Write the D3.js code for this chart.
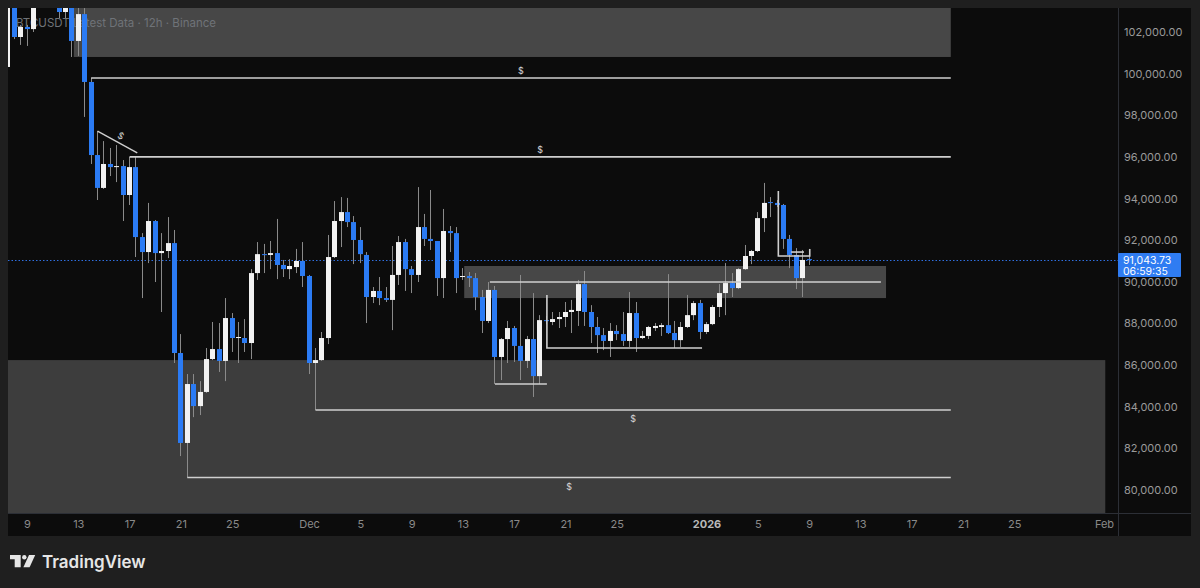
<!DOCTYPE html>
<html>
<head>
<meta charset="utf-8">
<script src="https://cdn.jsdelivr.net/npm/d3@7"></script>
<style>
  html, body { margin: 0; padding: 0; background: #1f1f1f; }
  svg { display: block; font-family: Inter, Roboto, "Noto Sans", sans-serif; }
</style>
</head>
<body>
<div id="chart"></div>
<script>
// BTCUSDT 12h candles, Binance — dark TradingView style snapshot
const width = 1200, height = 588;
const pane = {left: 8, top: 8, right: 1118, bottom: 513};
const axisEnd = 1191, timeAxisBottom = 536;

// first candle opens 2025-11-07 12:00 UTC, one candle every 12h
const firstCandle = Date.UTC(2025, 10, 7, 12);
const open = [100320,103540,101760,102240,102140,103540,105000,104500,103300,102960,103300,101570,102860,99600,96090,94510,95660,95510,95560,94170,95510,92150,91430,92920,91380,91480,91860,86580,82260,85090,84030,84710,86290,86770,86200,88260,87300,87300,87060,90420,91330,91290,91380,90810,90610,90710,91000,90280,86100,86240,87300,91190,92920,93350,92870,92010,91290,89270,89560,89220,89130,90330,91910,90610,90330,92630,92060,91960,90180,92440,92340,90230,90280,90180,89270,88120,89610,86390,87250,87780,86920,86200,87250,85470,88160,88070,88210,88310,88550,88600,89890,88550,87830,87440,87160,87640,87490,87160,88500,87300,87400,87780,87830,87920,87540,87200,87830,88400,88980,87590,87970,88790,89460,89940,89700,90610,91240,91480,93060,93830,93790,93690,92060,91290,90180,91090];
const high = [104500,103780,102340,102340,103920,105500,106000,105000,103540,103680,103540,103200,103150,99790,97240,96760,96430,96570,95850,96000,96000,92340,93790,92970,92340,93110,92490,87490,85570,85570,85230,86820,88070,88020,89220,88500,88070,88210,90610,91910,91820,91960,93020,91050,91090,91580,91910,90330,86820,87590,92250,93880,94070,94030,93160,92630,91430,89750,90230,89750,91720,92200,92060,90760,94550,93260,94410,91960,93500,92680,92630,90660,90470,90420,89610,89990,89800,87300,88120,87880,90330,87400,89460,88400,88360,88550,88550,89030,89130,90090,90520,88880,88310,87780,88020,87920,88550,89510,89030,87640,87880,88020,88020,90370,88120,88070,89370,89080,89130,88070,88880,89890,90900,90420,90660,91770,91530,93350,94750,94070,93930,93740,92250,91620,91530,91580];
const low = [99210,101660,101380,101330,102000,103400,104000,103280,102670,102670,100800,100850,97920,95660,93930,94460,95080,94790,92920,93690,91190,89220,90900,89990,88550,91140,86100,81630,80600,83500,83600,84660,86240,85670,85230,86630,86100,86630,86290,90090,90420,90610,90130,90230,90130,90420,89750,85570,83840,86200,87010,91140,91670,92630,90850,90900,88020,88980,88880,89030,87680,89850,89560,89460,89990,91720,91530,89320,89220,91430,89460,90090,89750,88640,87540,88020,85090,85280,86100,86150,85280,85860,84470,85090,87970,87920,87780,87830,87540,87880,87880,87060,86580,86720,86390,87200,86920,86870,86630,87250,87250,87640,87400,87490,86820,86870,87780,88160,87250,87490,87920,88310,88400,89270,89650,90570,90850,91430,92390,93110,93590,91580,90660,89650,89270,90810];
const close = [103540,101760,102240,102140,103540,105000,104500,103300,102960,103300,101570,102860,99600,96090,94510,95660,95510,95560,94170,95510,92150,91430,92920,91380,91480,91860,86580,82260,85090,84030,84710,86290,86770,86200,88260,87300,87350,87060,90420,91330,91290,91380,90810,90610,90760,91000,90280,86100,86240,87300,91190,92920,93350,92870,92010,91330,89270,89560,89220,89130,90330,91910,90610,90330,92630,92060,91960,90180,92440,92340,90180,90280,90180,89270,88120,89610,86390,87250,87780,86920,86200,87250,85470,88160,88120,88210,88310,88550,88650,89890,88550,87830,87440,87160,87640,87490,87160,88500,87300,87400,87830,87880,87920,87540,87200,87830,88400,88980,87590,87970,88790,89460,89940,89700,90610,91240,91480,93060,93790,93790,93690,92060,91290,90180,91050,91043.73];
const lastPrice = 91043.73;
const countdown = "06:59:35";

// price axis ticks
const priceTicks = [80000, 82000, 84000, 86000, 88000, 90000, 92000, 94000, 96000, 98000, 100000, 102000];
// time axis ticks and labels
const timeTicks = [
  [2025, 10, 9], [2025, 10, 13], [2025, 10, 17], [2025, 10, 21], [2025, 10, 25],
  [2025, 11, 1], [2025, 11, 5], [2025, 11, 9], [2025, 11, 13], [2025, 11, 17], [2025, 11, 21], [2025, 11, 25],
  [2026, 0, 1], [2026, 0, 5], [2026, 0, 9], [2026, 0, 13], [2026, 0, 17], [2026, 0, 21], [2026, 0, 25],
  [2026, 1, 1]
];
const timeLabels = ["9","13","17","21","25","Dec","5","9","13","17","21","25","2026","5","9","13","17","21","25","Feb"];

// drawings, in candle index (k) and price
const zones = [
  {k0: 10.3, k1: 147.1, p0: 100800, p1: 105000, fill: "#474747"},
  {k0: 71.2, k1: 137.0, p0: 89220, p1: 90760, fill: "#474747"},
  {k0: -5, k1: 171.2, p0: 70000, p1: 86240, fill: "#3d3d3d"}
];
const levels = [
  {k0: 13, k1: 147.1, price: 99790, label: "above"},
  {k0: 19, k1: 147.1, price: 96000, label: "above"},
  {k0: 48, k1: 147.1, price: 83840, label: "below"},
  {k0: 28, k1: 147.1, price: 80600, label: "below"},
  {k0: 75.2, k1: 136.2, price: 89990, label: null}
];
const trendLine = [[14, 97240], [20.2, 96190]];
const brackets = [
  [[76, 85090], [84.1, 85090]],
  [[84.1, 89370], [84.1, 86820], [108.3, 86820]],
  [[120.2, 94360], [120.2, 91240], [125.1, 91240], [125.1, 91580]],
  [[122.2, 91430], [124.2, 91430]]
];

const candles = open.map((o, k) => ({
  t: new Date(firstCandle + k * 12 * 3600e3),
  o, h: high[k], l: low[k], c: close[k]
}));
const barTime = k => new Date(firstCandle + k * 12 * 3600e3);

const x = d3.scaleUtc()
  .domain([new Date(Date.UTC(2025, 10, 9)), new Date(Date.UTC(2026, 1, 1))])
  .range([27, 1104]);
const y = d3.scaleLinear().domain([80000, 102000]).range([490, 32]);

const svg = d3.select("#chart").append("svg")
  .attr("width", width).attr("height", height)
  .attr("viewBox", `0 0 ${width} ${height}`);

svg.append("rect").attr("width", width).attr("height", height).attr("fill", "#1f1f1f");

// panel backgrounds
svg.append("rect")
  .attr("x", pane.left).attr("y", pane.top)
  .attr("width", axisEnd - pane.left).attr("height", timeAxisBottom - pane.top)
  .attr("fill", "#0c0c0c");

svg.append("defs").append("clipPath").attr("id", "pane-clip")
  .append("rect")
  .attr("x", pane.left).attr("y", pane.top)
  .attr("width", pane.right - pane.left).attr("height", pane.bottom - pane.top);

const g = svg.append("g").attr("clip-path", "url(#pane-clip)");

// zones
g.selectAll("rect.zone")
  .data(zones)
  .join("rect")
    .attr("class", "zone")
    .attr("x", d => x(barTime(d.k0)))
    .attr("width", d => x(barTime(d.k1)) - x(barTime(d.k0)))
    .attr("y", d => y(d.p1))
    .attr("height", d => y(d.p0) - y(d.p1))
    .attr("fill", d => d.fill);

// legend (sits behind the candles)
g.append("text")
  .attr("x", 16).attr("y", 27)
  .attr("fill", "#6f7378")
  .style("font-size", "11.5px")
  .text("BTCUSDT Latest Data · 12h · Binance");

// last price dotted line
g.append("line")
  .attr("x1", pane.left).attr("x2", pane.right)
  .attr("y1", Math.round(y(lastPrice)) + 0.5).attr("y2", Math.round(y(lastPrice)) + 0.5)
  .attr("stroke", "#2f6fe0").attr("stroke-width", 1)
  .attr("stroke-dasharray", "1.5,2");

// candles
const cx = d => Math.floor(x(d.t));
const cg = g.append("g");
cg.selectAll("line.wick")
  .data(candles)
  .join("line")
    .attr("class", "wick")
    .attr("x1", d => cx(d) + 0.5).attr("x2", d => cx(d) + 0.5)
    .attr("y1", d => y(d.h)).attr("y2", d => y(d.l))
    .attr("stroke", "#8a8a8a").attr("stroke-width", 1);

cg.selectAll("rect.body")
  .data(candles)
  .join("rect")
    .attr("class", "body")
    .attr("x", d => cx(d) - 2)
    .attr("width", 5)
    .attr("y", d => y(Math.max(d.o, d.c)))
    .attr("height", d => Math.max(1, Math.abs(y(d.o) - y(d.c))))
    .attr("fill", d => d.c >= d.o ? "#f2f2f2" : "#2b7bf4");

// liquidity lines
const lineColor = "#cfcfcf";
g.selectAll("line.level")
  .data(levels)
  .join("line")
    .attr("class", "level")
    .attr("x1", d => x(barTime(d.k0))).attr("x2", d => x(barTime(d.k1)))
    .attr("y1", d => y(d.price)).attr("y2", d => y(d.price))
    .attr("stroke", lineColor).attr("stroke-width", 1.6);

g.selectAll("text.level-label")
  .data(levels.filter(d => d.label))
  .join("text")
    .attr("class", "level-label")
    .attr("x", d => (x(barTime(d.k0)) + x(barTime(d.k1))) / 2)
    .attr("y", d => y(d.price) + (d.label === "above" ? -4 : 12))
    .attr("text-anchor", "middle")
    .attr("fill", "#d8d8d8")
    .style("font-size", "9px")
    .text("$");

const line = d3.line().x(d => x(barTime(d[0]))).y(d => y(d[1]));
g.selectAll("path.bracket")
  .data(brackets)
  .join("path")
    .attr("class", "bracket")
    .attr("d", line)
    .attr("fill", "none")
    .attr("stroke", lineColor).attr("stroke-width", 1.6);

g.append("path")
  .attr("d", line(trendLine))
  .attr("fill", "none")
  .attr("stroke", lineColor).attr("stroke-width", 1.4);

const tA = trendLine[0], tB = trendLine[1];
const ang = Math.atan2(y(tB[1]) - y(tA[1]), x(barTime(tB[0])) - x(barTime(tA[0]))) * 180 / Math.PI;
const midX = (x(barTime(tA[0])) + x(barTime(tB[0]))) / 2;
const midY = (y(tA[1]) + y(tB[1])) / 2;
g.append("text")
  .attr("transform", `translate(${midX},${midY}) rotate(${ang}) translate(0,-4)`)
  .attr("text-anchor", "middle")
  .attr("fill", "#d8d8d8")
  .style("font-size", "9px")
  .text("$");

// separators
svg.append("line")
  .attr("x1", pane.right + 0.5).attr("x2", pane.right + 0.5)
  .attr("y1", pane.top).attr("y2", timeAxisBottom)
  .attr("stroke", "#2c2f36");
svg.append("line")
  .attr("x1", pane.left).attr("x2", axisEnd)
  .attr("y1", pane.bottom + 0.5).attr("y2", pane.bottom + 0.5)
  .attr("stroke", "#2c2f36");

// price axis
const yAxis = svg.append("g")
  .attr("transform", `translate(${pane.right},0)`)
  .call(d3.axisRight(y).tickValues(priceTicks).tickSize(0).tickPadding(6)
    .tickFormat(d3.format(",.2f")));
yAxis.select(".domain").remove();
yAxis.selectAll("text")
  .attr("fill", "#9a9a9a")
  .style("font-size", "11px")
  .style("font-family", "Inter, Roboto, sans-serif");

// time axis
const tickDates = timeTicks.map(d => new Date(Date.UTC(d[0], d[1], d[2])));
const xAxis = svg.append("g")
  .attr("transform", `translate(0,${pane.bottom})`)
  .call(d3.axisBottom(x).tickValues(tickDates).tickSize(0).tickPadding(7)
    .tickFormat((d, i) => timeLabels[i]));
xAxis.select(".domain").remove();
xAxis.selectAll("text")
  .attr("fill", (d, i) => timeLabels[i] === "2026" ? "#b8b8b8" : "#8a8a8a")
  .style("font-weight", (d, i) => timeLabels[i] === "2026" ? "700" : "400")
  .style("font-size", "11px")
  .style("font-family", "Inter, Roboto, sans-serif");

// last price tag
const py = y(lastPrice);
const tag = svg.append("g").attr("transform", `translate(${pane.right},${Math.round(py) - 7})`);
tag.append("rect").attr("width", 63).attr("height", 24).attr("rx", 1).attr("fill", "#2f7cf2");
tag.append("text").attr("x", 5).attr("y", 10.5)
  .attr("fill", "#ffffff").style("font-size", "10.5px").text(d3.format(",.2f")(lastPrice));
tag.append("text").attr("x", 5).attr("y", 21.5)
  .attr("fill", "#ffffff").style("font-size", "10.5px").text(countdown);

// TradingView logo
const logo = svg.append("g").attr("fill", "#e6e6e6");
logo.append("path").attr("d", "M10,555 H20.7 V567.3 H14.7 V559.3 H10 Z");
logo.append("circle").attr("cx", 24.3).attr("cy", 557.2).attr("r", 2.2);
logo.append("path").attr("d", "M29,555 H35.2 L29.6,567.3 H23.4 Z");
logo.append("text")
  .attr("x", 42).attr("y", 568)
  .style("font-size", "17px").style("font-weight", "600")
  .text("TradingView");
</script>
</body>
</html>
